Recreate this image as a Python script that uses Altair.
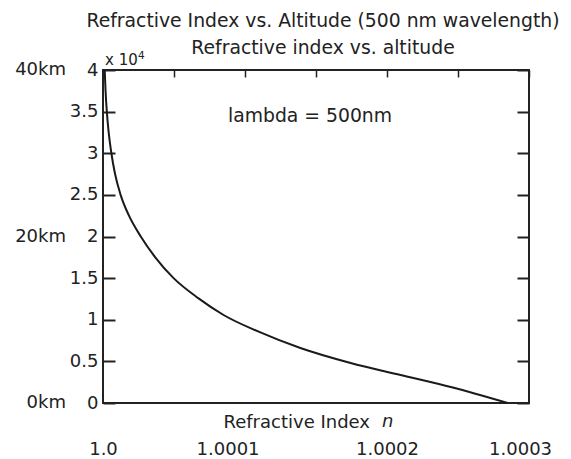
import altair as alt
import pandas as pd

# Curve: altitude (m) and (n - 1) in units of 1e-4
altitude_m = [40000, 37500, 35000, 32500, 30000, 27500, 25000, 22500, 20000,
              17500, 15000, 12570, 10570, 8565, 6607, 4805, 3363, 1922, 0]
n_minus_1_e4 = [0.012, 0.018, 0.027, 0.040, 0.059, 0.085, 0.124, 0.183, 0.266,
                0.368, 0.497, 0.673, 0.849, 1.096, 1.39, 1.744, 2.096, 2.449, 2.85]

km_values = [0, 20000, 40000]
km_labels = ["0km", "20km", "40km"]

bottom_labels = ["1.0", "1.0001", "1.0002", "1.0003"]
bottom_label_at = [1.0, 1.0000877, 1.0002, 1.0002937]

FONT = "DejaVu Sans"
INK = "#222222"

df = pd.DataFrame({"n": [1 + v * 1e-4 for v in n_minus_1_e4], "h": altitude_m})
xdom = [1.0, 1.0003]
ydom = [0, 40000]

x_ticks = [1.0 + i * 0.00005 for i in range(7)]
y_ticks = [i * 5000 for i in range(9)]

label_expr = ("datum.value < 1.00005 ? '{0}' : datum.value < 1.00015 ? '{1}' : "
              "datum.value < 1.00025 ? '{2}' : '{3}'").format(*bottom_labels)

line = alt.Chart(df).mark_line(color="#1a1a1a", strokeWidth=2, interpolate="monotone").encode(
    x=alt.X("n:Q", scale=alt.Scale(domain=xdom, nice=False, zero=False),
            axis=alt.Axis(orient="top", values=x_ticks, labels=False, domain=False,
                          grid=False, tickSize=7, offset=-7, tickWidth=1.5,
                          tickColor=INK, title=None)),
    y=alt.Y("h:Q", scale=alt.Scale(domain=ydom, nice=False),
            axis=alt.Axis(orient="left", values=y_ticks, domain=False, grid=False,
                          tickSize=12, offset=-12, tickWidth=2, tickColor=INK,
                          labelExpr="datum.value / 10000", labelPadding=5,
                          labelFontSize=18, labelColor=INK, labelFont=FONT,
                          title=None)),
)

lam = pd.DataFrame({"n": [1.000088], "h": [34500], "t": ["lambda = 500nm"]})
lam_text = alt.Chart(lam).mark_text(align="left", baseline="middle", fontSize=18.8,
                                    font=FONT, color=INK).encode(
    x=alt.X("n:Q", scale=alt.Scale(domain=xdom, nice=False, zero=False),
            axis=alt.Axis(orient="bottom", values=bottom_label_at,
                          labelExpr=label_expr,
                          ticks=False, domain=False, grid=False,
                          labelPadding=37, labelFontSize=18, labelColor=INK,
                          labelFont=FONT, labelFlush=False, labelOverlap=False,
                          title="Refractive Index", titleFont=FONT, titleFontSize=18,
                          titleFontWeight="normal", titleColor=INK,
                          titleX=120, titleY=24, titleAlign="left",
                          titleBaseline="alphabetic")),
    y=alt.Y("h:Q", scale=alt.Scale(domain=ydom, nice=False),
            axis=alt.Axis(orient="right", values=y_ticks, labels=False, domain=False,
                          grid=False, tickSize=12, offset=-12, tickWidth=2,
                          tickColor=INK, title=None)),
    text="t:N",
)

km_df = pd.DataFrame({"h": km_values, "t": km_labels})
km_text = alt.Chart(km_df).mark_text(align="right", baseline="middle", fontSize=18,
                                     font=FONT, color=INK).encode(
    x=alt.value(-37),
    y=alt.Y("h:Q", scale=alt.Scale(domain=ydom, nice=False), axis=None),
    text="t:N",
)

n_text = alt.Chart(pd.DataFrame({"t": ["n"]})).mark_text(
    align="left", baseline="alphabetic", fontSize=18, font=FONT, fontStyle="italic",
    color=INK).encode(x=alt.value(279), y=alt.value(357), text="t:N")

exp_text = alt.Chart(pd.DataFrame({"t": ["x 10"]})).mark_text(
    align="left", baseline="alphabetic", fontSize=15, font=FONT,
    color=INK).encode(x=alt.value(2), y=alt.value(-5), text="t:N")

exp_sup = alt.Chart(pd.DataFrame({"t": ["4"]})).mark_text(
    align="left", baseline="alphabetic", fontSize=10.5, font=FONT,
    color=INK).encode(x=alt.value(35), y=alt.value(-11), text="t:N")

chart = alt.layer(line, lam_text, km_text, n_text, exp_text, exp_sup).resolve_scale(
    x="independent", y="independent"
).properties(
    width=426, height=333,
    autosize=alt.AutoSizeParams(type="none"),
    padding={"left": 95, "top": 62, "right": 34, "bottom": 54},
    title=alt.TitleParams(
        text="Refractive Index vs. Altitude (500 nm wavelength)",
        subtitle="Refractive index vs. altitude",
        anchor="middle", dx=7, dy=17, offset=10, fontSize=18.8, subtitleFontSize=18.8,
        font=FONT, subtitleFont=FONT, fontWeight="normal", color=INK,
        subtitleColor=INK, subtitlePadding=8,
    ),
).configure_view(stroke=INK, strokeWidth=2)

chart.save("out.html", embed_options={"renderer": "svg", "actions": False})
